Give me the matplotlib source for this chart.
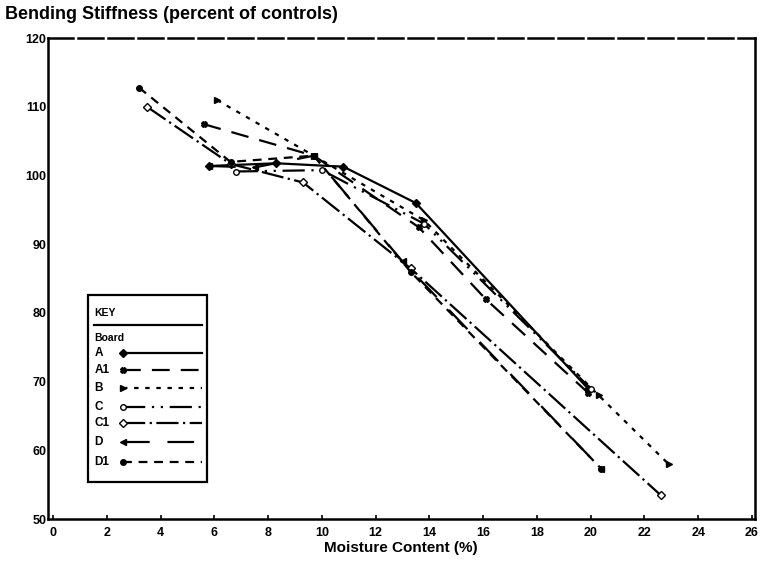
import matplotlib
matplotlib.use('Agg')
import matplotlib.pyplot as plt
from matplotlib.patches import Rectangle

plt.rcParams['font.family'] = ['Liberation Sans', 'DejaVu Sans']
plt.rcParams['font.weight'] = 'bold'

# moisture content (%) and bending stiffness (percent of controls) per board
boards = ['A', 'A1', 'B', 'C', 'C1', 'D', 'D1']
x_A = [5.8, 8.3, 10.8, 13.5, 19.9]
y_A = [101.4, 101.8, 101.3, 96.0, 69.0]
x_A1 = [5.6, 9.7, 13.6, 16.1, 19.9]
y_A1 = [107.5, 102.9, 92.5, 82.0, 68.4]
x_B = [6.1, 9.7, 13.8, 20.3, 22.9]
y_B = [111.0, 102.9, 93.5, 68.0, 58.0]
x_C = [6.8, 10.0, 13.8, 20.0]
y_C = [100.6, 100.8, 93.0, 69.0]
x_C1 = [3.5, 6.6, 9.3, 13.3, 22.6]
y_C1 = [110.0, 101.7, 99.0, 86.5, 53.5]
x_D = [5.8, 7.5, 9.7, 13.0, 20.4]
y_D = [101.4, 101.2, 102.9, 87.5, 57.3]
x_D1 = [3.2, 6.6, 9.7, 13.3, 20.4]
y_D1 = [112.8, 102.0, 102.9, 86.0, 57.3]

xs = [x_A, x_A1, x_B, x_C, x_C1, x_D, x_D1]
ys = [y_A, y_A1, y_B, y_C, y_C1, y_D, y_D1]

x_ticks = list(range(0, 27, 2))
y_ticks = list(range(50, 121, 10))

# line style, marker, marker face for each board
styles = [
    ('-', 'D', 'black'),
    ((0, (8, 5)), 'X', 'black'),
    ((0, (2, 3)), '>', 'black'),
    ((0, (10, 3, 1, 3, 1, 3)), 'o', 'white'),
    ((0, (10, 2, 1, 2)), 'D', 'white'),
    ((0, (12, 8)), '<', 'black'),
    ((0, (4, 3)), 'o', 'black'),
]

fig = plt.figure(figsize=(7.7, 5.71), dpi=100)
ax = fig.add_axes([0.062, 0.091, 0.918, 0.842])

for xv, yv, (ls, mk, mfc) in zip(xs, ys, styles):
    ax.plot(xv, yv, color='black', linestyle=ls, linewidth=1.6,
            marker=mk, markersize=4, markerfacecolor=mfc, markeredgecolor='black')

ax.set_xlim(-0.2, 26.1)
ax.set_ylim(50, 120)
ax.set_xticks(x_ticks)
ax.set_yticks(y_ticks)
ax.tick_params(axis='x', direction='in', length=3, width=1.2, labelsize=9, pad=6)
ax.tick_params(axis='y', length=0, labelsize=9, pad=1)
for lab in ax.get_xticklabels() + ax.get_yticklabels():
    lab.set_fontweight('bold')
for sp in ax.spines.values():
    sp.set_linewidth(1.8)
ax.spines['top'].set_linestyle((0, (10, 2)))

ax.set_xlabel('Moisture Content (%)', fontsize=11, fontweight='bold', labelpad=1)
fig.text(0.006, 0.974, 'Bending Stiffness (percent of controls)',
         fontsize=13, fontweight='bold', ha='left', va='center')

# hand drawn key box
ax.add_patch(Rectangle((0.057, 0.077), 0.168, 0.389, transform=ax.transAxes,
                       facecolor='white', edgecolor='black', linewidth=1.6, zorder=5))
ax.text(0.066, 0.428, 'KEY', transform=ax.transAxes, fontsize=7.5,
        fontweight='bold', va='center', zorder=6)
ax.plot([0.066, 0.218], [0.403, 0.403], transform=ax.transAxes, color='black',
        linewidth=1.6, zorder=6, clip_on=False)
ax.text(0.066, 0.376, 'Board', transform=ax.transAxes, fontsize=7.5,
        fontweight='bold', va='center', zorder=6)
row_y = [0.345, 0.310, 0.272, 0.233, 0.200, 0.160, 0.119]
for name, ry, (ls, mk, mfc) in zip(boards, row_y, styles):
    ax.text(0.066, ry, name, transform=ax.transAxes, fontsize=8.5,
            fontweight='bold', va='center', zorder=6)
    ax.plot([0.106, 0.218], [ry, ry], transform=ax.transAxes, color='black',
            linestyle=ls, linewidth=1.6, zorder=6, clip_on=False)
    ax.plot([0.106], [ry], transform=ax.transAxes, marker=mk, markersize=4,
            markerfacecolor=mfc, markeredgecolor='black', zorder=7, clip_on=False)

plt.savefig('out.png', dpi=100)
